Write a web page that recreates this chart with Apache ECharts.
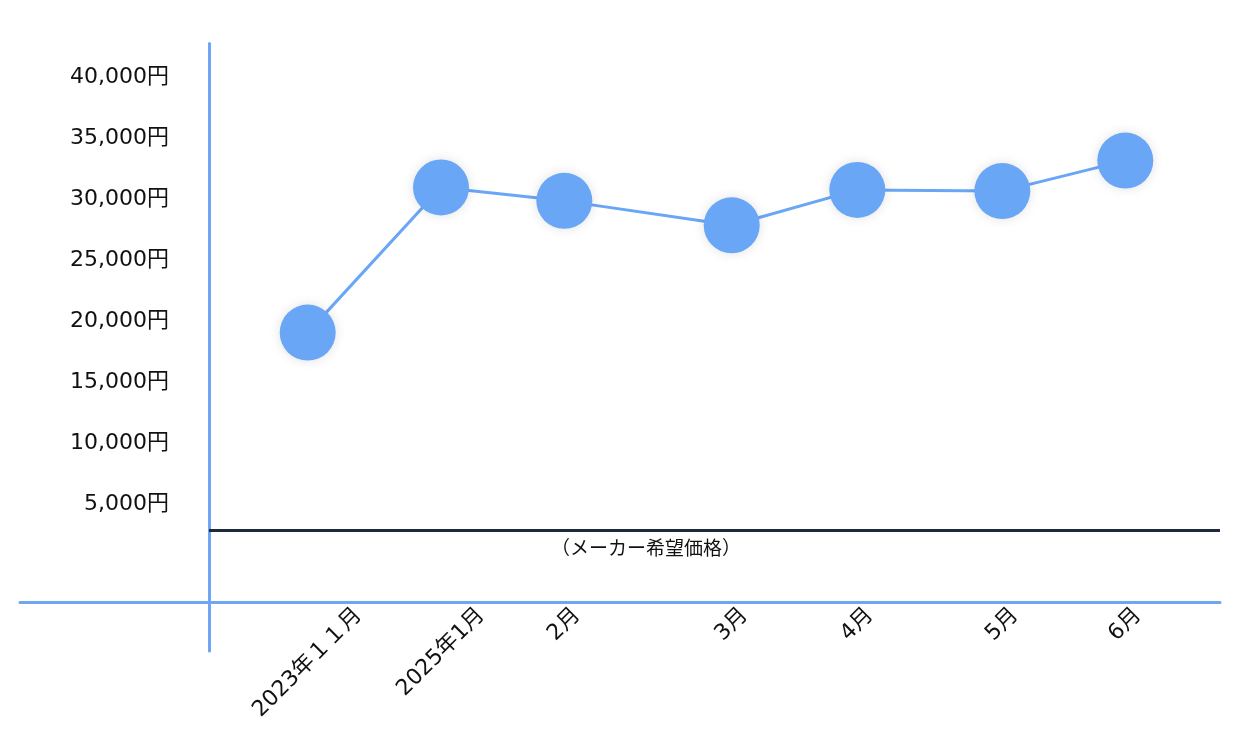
<!DOCTYPE html>
<html>
<head>
<meta charset="utf-8">
<script src="https://cdn.jsdelivr.net/npm/echarts@6/dist/echarts.min.js"></script>
<style>
html,body{margin:0;padding:0;background:#fff;}
#c{width:1240px;height:747px;}
</style>
</head>
<body>
<div id="c"></div>
<script>
// ---- data ----
const categories = ['2023年１１月', '2025年1月', '2月', '3月', '4月', '5月', '6月'];
const xPositions = [0.987, 2.32, 3.553, 5.227, 6.483, 7.933, 9.163];
const prices = [19100, 31000, 29900, 27900, 30800, 30700, 33200];
const msrp = 2900;
const msrpLabel = '（メーカー希望価格）';
const yTickValues = [5000, 10000, 15000, 20000, 25000, 30000, 35000, 40000];

// ---- layout / style ----
const xMin = -1.89, xMax = 10.11;
const yMin = -7000, yMax = 42800;
const blue = '#6ea6f3';
const pointBlue = '#6aa6f6';
const font = "'DejaVu Sans', 'Noto Sans CJK JP', sans-serif";
const xFontSize = 22;

// measure label widths for centered rotated labels
const ctx = document.createElement('canvas').getContext('2d');
ctx.font = xFontSize + 'px ' + font;
const rich = {};
categories.forEach((c, i) => {
  const L = ctx.measureText(c).width;
  rich['l' + i] = { padding: [L / 2, L / 2, 0, 0] };
});

const chart = echarts.init(document.getElementById('c'));
chart.setOption({
  animation: false,
  backgroundColor: '#fff',
  grid: { left: 20, right: 20, top: 43.5, bottom: 96, outerBoundsMode: 'none', containLabel: false },
  xAxis: {
    type: 'value', min: xMin, max: xMax,
    offset: -49,
    axisLine: { show: true, onZero: false, lineStyle: { color: blue, width: 3 } },
    axisTick: { show: false },
    splitLine: { show: false },
    axisLabel: {
      customValues: xPositions,
      rotate: 45,
      align: 'center',
      verticalAlign: 'middle',
      margin: 10,
      fontFamily: font,
      fontSize: xFontSize,
      color: '#111',
      rich: rich,
      formatter: function (v) {
        let idx = 0, best = Infinity;
        xPositions.forEach((p, i) => { const d = Math.abs(p - v); if (d < best) { best = d; idx = i; } });
        return '{l' + idx + '|' + categories[idx] + '}';
      }
    }
  },
  yAxis: {
    type: 'value', min: yMin, max: yMax,
    offset: -189,
    axisLine: { show: true, onZero: false, lineStyle: { color: blue, width: 3 } },
    axisTick: { show: false },
    splitLine: { show: false },
    axisLabel: {
      customValues: yTickValues,
      margin: 40,
      fontFamily: font,
      fontSize: 22,
      color: '#111',
      formatter: v => v.toLocaleString('en-US') + '円'
    }
  },
  series: [{
    type: 'line',
    data: xPositions.map((x, i) => [x, prices[i]]),
    symbol: 'circle',
    symbolSize: 56,
    itemStyle: { color: pointBlue, shadowBlur: 12, shadowColor: 'rgba(0,0,0,0.12)' },
    lineStyle: { color: pointBlue, width: 3 },
    emphasis: { disabled: true },
    z: 5,
    markLine: {
      silent: true,
      symbol: 'none',
      label: { show: false },
      data: [
        [
          { coord: [0, msrp], lineStyle: { color: '#1e293b', width: 3, type: 'solid' } },
          { coord: [xMax, msrp] }
        ]
      ]
    },
    markPoint: {
      silent: true,
      symbol: 'circle',
      symbolSize: 0,
      data: [{ coord: [4.37, msrp], value: msrpLabel }],
      label: {
        show: true,
        position: 'bottom',
        distance: 8,
        formatter: msrpLabel,
        fontFamily: "'Noto Sans CJK JP', sans-serif",
        fontSize: 19,
        color: '#111'
      }
    }
  }]
});
</script>
</body>
</html>
